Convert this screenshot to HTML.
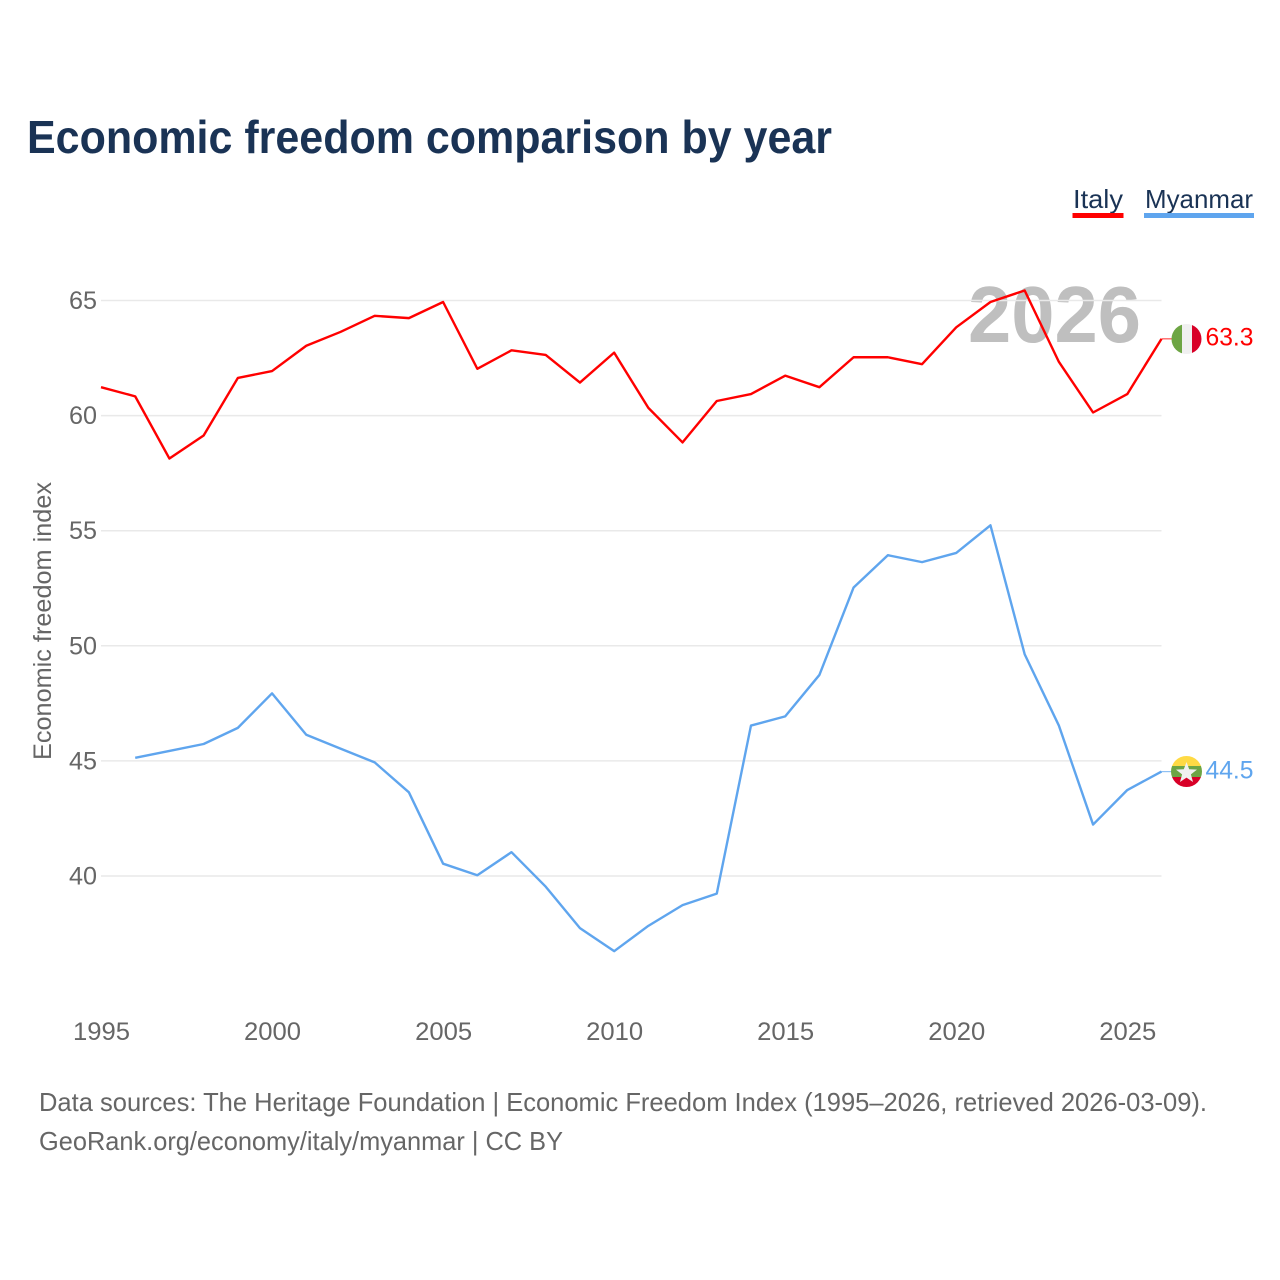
<!DOCTYPE html>
<html lang="en">
<head>
<meta charset="utf-8">
<title>Economic freedom comparison by year</title>
<style>
html,body{margin:0;padding:0;background:#fff;}
svg{display:block;}
text{font-family:"Liberation Sans",sans-serif;}
</style>
</head>
<body>
<svg id="chart" xmlns="http://www.w3.org/2000/svg" width="1280" height="1280" viewBox="0 0 1280 1280">
  <defs>
    <clipPath id="clip-italy"><circle cx="1186.5" cy="339" r="15"></circle></clipPath>
    <clipPath id="clip-myanmar"><circle cx="1186.5" cy="771.5" r="15.5"></circle></clipPath>
  </defs>
  <rect x="0" y="0" width="1280" height="1280" fill="#ffffff"></rect>
  <text x="27" y="153" font-size="46" font-weight="700" fill="#1a3355" textLength="805" lengthAdjust="spacingAndGlyphs">Economic freedom comparison by year</text>

  <g>
    <g>
      <text x="1073" y="208" font-size="26" fill="#1a3355" textLength="50" lengthAdjust="spacingAndGlyphs">Italy</text>
      <rect x="1072.5" y="213" width="51" height="5" fill="#ff0000"></rect>
    </g>
    <g>
      <text x="1145" y="208" font-size="26" fill="#1a3355" textLength="108" lengthAdjust="spacingAndGlyphs">Myanmar</text>
      <rect x="1144" y="213" width="110" height="5" fill="#5fa5ee"></rect>
    </g>
  </g>

  <text x="968" y="342" font-size="80" font-weight="700" fill="#bfbfbf" textLength="173" lengthAdjust="spacingAndGlyphs">2026</text>

  <g id="grid"></g>
  <g id="y-axis"></g>
  <g id="x-axis"></g>
  <text transform="translate(51 621) rotate(-90)" text-anchor="middle" font-size="25" fill="#666666" textLength="278" lengthAdjust="spacingAndGlyphs">Economic freedom index</text>

  <g id="series"></g>

  <g clip-path="url(#clip-italy)">
    <rect x="1171" y="323" width="11" height="32" fill="#6da544"></rect>
    <rect x="1182" y="323" width="10" height="32" fill="#f0f0f0"></rect>
    <rect x="1192" y="323" width="11" height="32" fill="#d80027"></rect>
  </g>
  <g clip-path="url(#clip-myanmar)">
    <rect x="1170" y="755" width="33" height="11" fill="#ffda44"></rect>
    <rect x="1170" y="766" width="33" height="11" fill="#6da544"></rect>
    <rect x="1170" y="777" width="33" height="11" fill="#d80027"></rect>
    <polygon points="1186.5,762 1189.2,769.3 1197,769.6 1190.9,774.4 1193,782 1186.5,777.6 1180,782 1182.1,774.4 1176,769.6 1183.8,769.3" fill="#f0f0f0"></polygon>
  </g>
  <g id="end-labels"></g>

  <text x="39" y="1111" font-size="26" fill="#666666" textLength="1168" lengthAdjust="spacingAndGlyphs">Data sources: The Heritage Foundation | Economic Freedom Index (1995–2026, retrieved 2026-03-09).</text>
  <text x="39" y="1150" font-size="26" fill="#666666" textLength="524" lengthAdjust="spacingAndGlyphs">GeoRank.org/economy/italy/myanmar | CC BY</text>
</svg>
<script>
var years = [1995,1996,1997,1998,1999,2000,2001,2002,2003,2004,2005,2006,2007,2008,2009,2010,2011,2012,2013,2014,2015,2016,2017,2018,2019,2020,2021,2022,2023,2024,2025,2026];
var italyValues = [61.2,60.8,58.1,59.1,61.6,61.9,63.0,63.6,64.3,64.2,64.9,62.0,62.8,62.6,61.4,62.7,60.3,58.8,60.6,60.9,61.7,61.2,62.5,62.5,62.2,63.8,64.9,65.4,62.3,60.1,60.9,63.3];
var myanmarValues = [null,45.1,45.4,45.7,46.4,47.9,46.1,45.5,44.9,43.6,40.5,40.0,41.0,39.5,37.7,36.7,37.8,38.7,39.2,46.5,46.9,48.7,52.5,53.9,53.6,54.0,55.2,49.6,46.5,42.2,43.7,44.5];
var yTicks = [40,45,50,55,60,65];
var xTicks = [1995,2000,2005,2010,2015,2020,2025];

var NS = 'http://www.w3.org/2000/svg';
function xScale(year){ return 101 + (year - 1995) * (1060.5 / 31); }
function yScale(value){ return 876 - (value - 40) * (575.5 / 25); }
function make(tag, parent, attrs, content){
  var el = document.createElementNS(NS, tag);
  for (var k in attrs) { el.setAttribute(k, attrs[k]); }
  if (content !== undefined) { el.textContent = content; }
  parent.appendChild(el);
  return el;
}
var gridGroup = document.getElementById('grid');
var yAxisGroup = document.getElementById('y-axis');
var xAxisGroup = document.getElementById('x-axis');
var seriesGroup = document.getElementById('series');
var endGroup = document.getElementById('end-labels');

yTicks.forEach(function(t){
  var line = make('line', gridGroup, {x1:101, x2:1161.5, y1:yScale(t), y2:yScale(t), stroke:'#e9e9e9', 'stroke-width':1.5});
  
  
  var label = make('text', yAxisGroup, {x:97, y:yScale(t) + 8.5, 'text-anchor':'end', 'font-size':25, fill:'#666666', textLength:28, lengthAdjust:'spacingAndGlyphs'}, String(t));
  
  
});
xTicks.forEach(function(t){
  var label = make('text', xAxisGroup, {x:xScale(t) + 0.5, y:1040, 'text-anchor':'middle', 'font-size':25, fill:'#666666', textLength:57, lengthAdjust:'spacingAndGlyphs'}, String(t));
  
  
});

function drawSeries(values, color, key, labelX){
  var pts = [];
  var lastYear = null, lastValue = null;
  values.forEach(function(v, i){
    if (v === null) { return; }
    pts.push(xScale(years[i]).toFixed(2) + ',' + (yScale(v) - 0.8).toFixed(2));
    lastYear = years[i];
    lastValue = v;
  });
  var line = make('polyline', seriesGroup, {points:pts.join(' '), fill:'none', stroke:color, 'stroke-width':2.4, 'stroke-linejoin':'round'});
  
  
  var lx = xScale(lastYear), ly = yScale(lastValue) - 0.8;
  var connector = make('line', seriesGroup, {x1:lx, x2:1172, y1:ly, y2:ly, stroke:color, 'stroke-width':1.2, 'stroke-opacity':0.7});
  
  
  var label = make('text', endGroup, {x:labelX, y:ly + 6.8, 'font-size':25, fill:color, textLength:48, lengthAdjust:'spacingAndGlyphs'}, lastValue.toFixed(1));
  
  
}
drawSeries(italyValues, '#ff0000', 'italy', 1205.5);
drawSeries(myanmarValues, '#5fa5ee', 'myanmar', 1205.5);
</script>
</body>
</html>
